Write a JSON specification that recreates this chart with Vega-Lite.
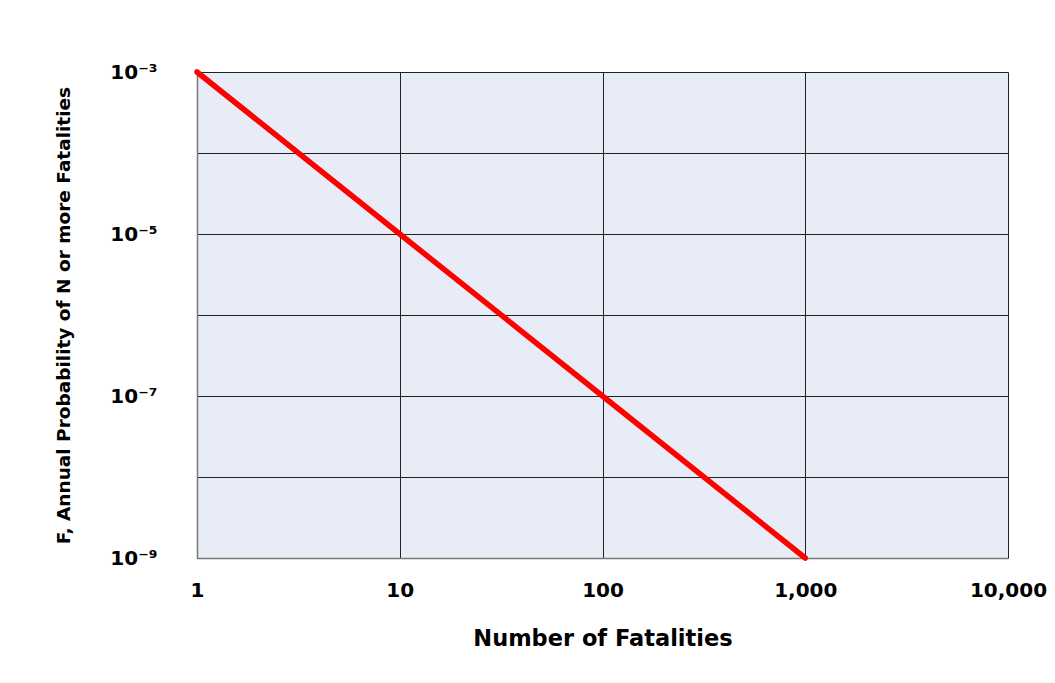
{
  "$schema": "https://vega.github.io/schema/vega-lite/v6.json",
  "autosize": {"type": "none"},
  "width": 811,
  "height": 486,
  "padding": {"left": 197, "top": 72, "right": 47, "bottom": 125},
  "background": "white",
  "config": {
    "view": {"fill": "#E7ECF6", "stroke": null},
    "font": "DejaVu Sans"
  },
  "data": {
    "values": [
      {"n": 1, "f": 0.001},
      {"n": 10, "f": 0.00001},
      {"n": 100, "f": 0.0000001},
      {"n": 1000, "f": 0.000000001}
    ]
  },
  "mark": {"type": "line", "color": "#FF0000", "strokeWidth": 5.5, "strokeCap": "round", "clip": false},
  "encoding": {
    "x": {
      "field": "n",
      "type": "quantitative",
      "scale": {"type": "log", "domain": [1, 10000], "nice": false},
      "axis": {
        "title": "Number of Fatalities",
        "values": [1, 10, 100, 1000, 10000],
        "format": ",d",
        "ticks": false,
        "grid": true,
        "gridColor": "#222222",
        "gridOpacity": 1,
        "gridWidth": 1,
        "domainColor": "#777777",
        "domainWidth": 1.5,
        "labelFont": "DejaVu Sans",
        "labelFontSize": 20,
        "labelFontWeight": "bold",
        "labelColor": "#000000",
        "labelPadding": 22,
        "labelBaseline": "top",
        "labelFlush": false,
        "titleFont": "DejaVu Sans",
        "titleFontSize": 22.5,
        "titleFontWeight": "bold",
        "titleColor": "#000000",
        "titlePadding": 27
      }
    },
    "y": {
      "field": "f",
      "type": "quantitative",
      "scale": {"type": "log", "domain": [0.000000001, 0.001], "nice": false},
      "axis": {
        "title": "F, Annual Probability of N or more Fatalities",
        "values": [0.000000001, 0.00000001, 0.0000001, 0.000001, 0.00001, 0.0001, 0.001],
        "labelExpr": "round(log(datum.value)/LN10) == -3 ? '10⁻³' : round(log(datum.value)/LN10) == -5 ? '10⁻⁵' : round(log(datum.value)/LN10) == -7 ? '10⁻⁷' : round(log(datum.value)/LN10) == -9 ? '10⁻⁹' : ''",
        "ticks": false,
        "grid": true,
        "gridColor": "#222222",
        "gridOpacity": 1,
        "gridWidth": 1,
        "domainColor": "#777777",
        "domainWidth": 1.5,
        "labelFont": "DejaVu Sans",
        "labelFontSize": 20,
        "labelFontWeight": "bold",
        "labelColor": "#000000",
        "labelPadding": 40,
        "labelFlush": false,
        "titleFont": "DejaVu Sans",
        "titleFontSize": 18.5,
        "titleFontWeight": "bold",
        "titleColor": "#000000",
        "titlePadding": 36
      }
    }
  }
}
